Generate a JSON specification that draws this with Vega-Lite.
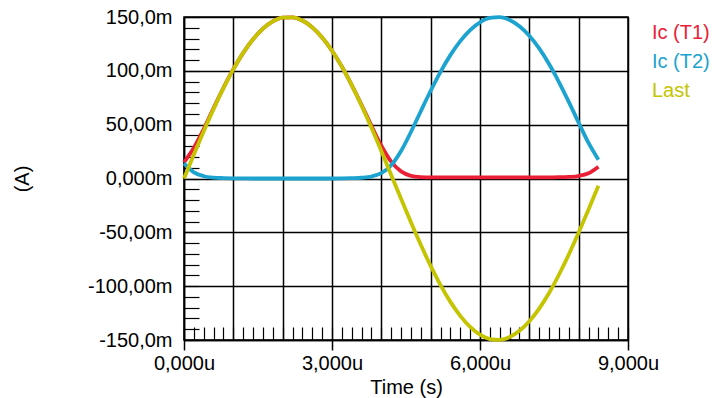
{
  "$schema": "https://vega.github.io/schema/vega-lite/v6.json",
  "width": 444,
  "height": 323,
  "autosize": {"type": "none"},
  "padding": {"left": 184, "top": 17, "right": 85, "bottom": 58},
  "background": "white",
  "config": {
    "view": {"stroke": "black", "strokeWidth": 1.5},
    "font": "Liberation Sans",
    "axis": {
      "labelFont": "Liberation Sans", "labelFontSize": 20, "labelColor": "#000",
      "titleFont": "Liberation Sans", "titleFontSize": 20, "titleFontWeight": "normal", "titleColor": "#000",
      "domainColor": "#000", "tickColor": "#000", "gridColor": "#000",
      "labelFlush": false, "labelOverlap": false, "labelBound": false
    }
  },
  "data": {"values": [
    {"t": 0.0, "Ic (T1)": 15.0, "Ic (T2)": 14.0, "Last": 0.0},
    {"t": 0.2, "Ic (T1)": 28.5, "Ic (T2)": 5.7, "Last": 22.2},
    {"t": 0.4, "Ic (T1)": 46.0, "Ic (T2)": 2.1, "Last": 43.9},
    {"t": 0.6, "Ic (T1)": 65.4, "Ic (T2)": 0.8, "Last": 64.7},
    {"t": 0.8, "Ic (T1)": 84.3, "Ic (T2)": 0.4, "Last": 84.0},
    {"t": 1.0, "Ic (T1)": 101.6, "Ic (T2)": 0.2, "Last": 101.4},
    {"t": 1.2, "Ic (T1)": 116.7, "Ic (T2)": 0.1, "Last": 116.7},
    {"t": 1.4, "Ic (T1)": 129.3, "Ic (T2)": 0.0, "Last": 129.3},
    {"t": 1.6, "Ic (T1)": 139.2, "Ic (T2)": 0.0, "Last": 139.2},
    {"t": 1.8, "Ic (T1)": 145.9, "Ic (T2)": 0.0, "Last": 145.9},
    {"t": 2.0, "Ic (T1)": 149.4, "Ic (T2)": 0.0, "Last": 149.4},
    {"t": 2.2, "Ic (T1)": 149.7, "Ic (T2)": 0.0, "Last": 149.7},
    {"t": 2.4, "Ic (T1)": 146.7, "Ic (T2)": 0.0, "Last": 146.7},
    {"t": 2.6, "Ic (T1)": 140.4, "Ic (T2)": 0.0, "Last": 140.4},
    {"t": 2.8, "Ic (T1)": 131.0, "Ic (T2)": 0.0, "Last": 131.0},
    {"t": 3.0, "Ic (T1)": 118.7, "Ic (T2)": 0.0, "Last": 118.7},
    {"t": 3.2, "Ic (T1)": 103.9, "Ic (T2)": 0.1, "Last": 103.9},
    {"t": 3.4, "Ic (T1)": 86.8, "Ic (T2)": 0.3, "Last": 86.7},
    {"t": 3.6, "Ic (T1)": 68.3, "Ic (T2)": 0.7, "Last": 67.6},
    {"t": 3.8, "Ic (T1)": 48.9, "Ic (T2)": 1.8, "Last": 47.1},
    {"t": 4.0, "Ic (T1)": 30.4, "Ic (T2)": 4.9, "Last": 25.5},
    {"t": 4.2, "Ic (T1)": 15.6, "Ic (T2)": 12.3, "Last": 3.3},
    {"t": 4.4, "Ic (T1)": 6.6, "Ic (T2)": 25.5, "Last": -18.9},
    {"t": 4.6, "Ic (T1)": 2.5, "Ic (T2)": 43.2, "Last": -40.7},
    {"t": 4.8, "Ic (T1)": 1.3, "Ic (T2)": 62.5, "Last": -61.6},
    {"t": 5.0, "Ic (T1)": 1.0, "Ic (T2)": 81.5, "Last": -81.2},
    {"t": 5.2, "Ic (T1)": 1.0, "Ic (T2)": 99.1, "Last": -99.0},
    {"t": 5.4, "Ic (T1)": 1.0, "Ic (T2)": 114.6, "Last": -114.6},
    {"t": 5.6, "Ic (T1)": 1.0, "Ic (T2)": 127.6, "Last": -127.6},
    {"t": 5.8, "Ic (T1)": 1.0, "Ic (T2)": 137.9, "Last": -137.9},
    {"t": 6.0, "Ic (T1)": 1.0, "Ic (T2)": 145.1, "Last": -145.1},
    {"t": 6.2, "Ic (T1)": 1.0, "Ic (T2)": 149.1, "Last": -149.1},
    {"t": 6.4, "Ic (T1)": 1.0, "Ic (T2)": 149.9, "Last": -149.9},
    {"t": 6.6, "Ic (T1)": 1.0, "Ic (T2)": 147.3, "Last": -147.3},
    {"t": 6.8, "Ic (T1)": 1.0, "Ic (T2)": 141.5, "Last": -141.5},
    {"t": 7.0, "Ic (T1)": 1.0, "Ic (T2)": 132.6, "Last": -132.6},
    {"t": 7.2, "Ic (T1)": 1.0, "Ic (T2)": 120.8, "Last": -120.8},
    {"t": 7.4, "Ic (T1)": 1.1, "Ic (T2)": 106.3, "Last": -106.3},
    {"t": 7.6, "Ic (T1)": 1.2, "Ic (T2)": 89.6, "Last": -89.4},
    {"t": 7.8, "Ic (T1)": 1.5, "Ic (T2)": 71.2, "Last": -70.6},
    {"t": 8.0, "Ic (T1)": 2.3, "Ic (T2)": 51.8, "Last": -50.2},
    {"t": 8.2, "Ic (T1)": 4.8, "Ic (T2)": 33.0, "Last": -28.8},
    {"t": 8.4, "Ic (T1)": 11.0, "Ic (T2)": 17.5, "Last": -6.7}
  ]},
  "transform": [{"fold": ["Ic (T1)", "Ic (T2)", "Last"], "as": ["s", "v"]}],
  "layer": [
    {
      "mark": {"type": "line", "opacity": 0},
      "encoding": {
        "x": {"field": "t", "type": "quantitative", "scale": {"domain": [0, 9], "nice": false, "zero": false},
          "axis": {"orient": "bottom", "values": [0, 1, 2, 3, 4, 5, 6, 7, 8, 9], "grid": true, "gridWidth": 1.5, "ticks": false, "labels": false, "domain": false, "title": null, "zindex": 0}},
        "y": {"field": "v", "type": "quantitative", "scale": {"domain": [-150, 150], "nice": false},
          "axis": {"orient": "left", "values": [-150, -100, -50, 0, 50, 100, 150], "grid": true, "gridWidth": 1.5, "ticks": false, "labels": false, "domain": false, "title": null, "zindex": 0}},
        "detail": {"field": "s"}
      }
    },
    {
      "mark": {"type": "line", "opacity": 0},
      "encoding": {
        "x": {"field": "t", "type": "quantitative",
          "axis": {"orient": "bottom", "offset": -13, "tickSize": 13, "tickWidth": 1.2, "values": [0,0.2,0.4,0.6,0.8,1,1.2,1.4,1.6,1.8,2,2.2,2.4,2.6,2.8,3,3.2,3.4,3.6,3.8,4,4.2,4.4,4.6,4.8,5,5.2,5.4,5.6,5.8,6,6.2,6.4,6.6,6.8,7,7.2,7.4,7.6,7.8,8,8.2,8.4,8.6,8.8,9], "grid": false, "labels": false, "domain": false, "title": null, "zindex": 0}},
        "y": {"field": "v", "type": "quantitative",
          "axis": {"orient": "left", "offset": -15, "tickSize": 15, "tickWidth": 1.2, "values": [-150,-140,-130,-120,-110,-100,-90,-80,-70,-60,-50,-40,-30,-20,-10,0,10,20,30,40,50,60,70,80,90,100,110,120,130,140,150], "grid": false, "labels": false, "domain": false, "title": null, "zindex": 0}},
        "detail": {"field": "s"}
      }
    },
    {
      "mark": {"type": "line", "strokeWidth": 3.8, "interpolate": "monotone"},
      "encoding": {
        "x": {"field": "t", "type": "quantitative",
          "axis": {"orient": "bottom", "values": [0, 3, 6, 9], "grid": false, "ticks": true, "tickSize": 10, "tickWidth": 1.5, "domain": true, "domainWidth": 1.5, "labelPadding": 3,
            "labelExpr": "replace(format(datum.value, '.3f'), '.', ',') + 'u'", "title": "Time (s)", "titlePadding": 4, "zindex": 0}},
        "y": {"field": "v", "type": "quantitative",
          "axis": {"orient": "left", "values": [-150, -100, -50, 0, 50, 100, 150], "grid": false, "ticks": false, "tickSize": 0, "domain": true, "domainWidth": 1.5, "labelPadding": 12,
            "labelExpr": "datum.value == 150 ? '150,0m' : datum.value == 100 ? '100,0m' : datum.value == 50 ? '50,00m' : datum.value == 0 ? '0,000m' : datum.value == -50 ? '-50,00m' : datum.value == -100 ? '-100,00m' : '-150,0m'",
            "title": "(A)", "titlePadding": 55, "zindex": 0}},
        "color": {"field": "s", "type": "nominal",
          "scale": {"domain": ["Ic (T1)", "Ic (T2)", "Last"], "range": ["#ea2136", "#1ca3d0", "#c4c400"]},
          "legend": {"orient": "none", "legendX": 448, "legendY": 6, "offset": 0, "title": null, "symbolSize": 0, "symbolOpacity": 0, "symbolStrokeWidth": 0, "labelOffset": 0, "labelFont": "Liberation Sans", "labelFontSize": 20, "labelLimit": 0, "rowPadding": 9, "padding": 0,
            "encode": {"labels": {"update": {"fill": {"scale": "color", "field": "value"}}}}}}
      }
    }
  ],
  "resolve": {"axis": {"x": "independent", "y": "independent"}}
}
